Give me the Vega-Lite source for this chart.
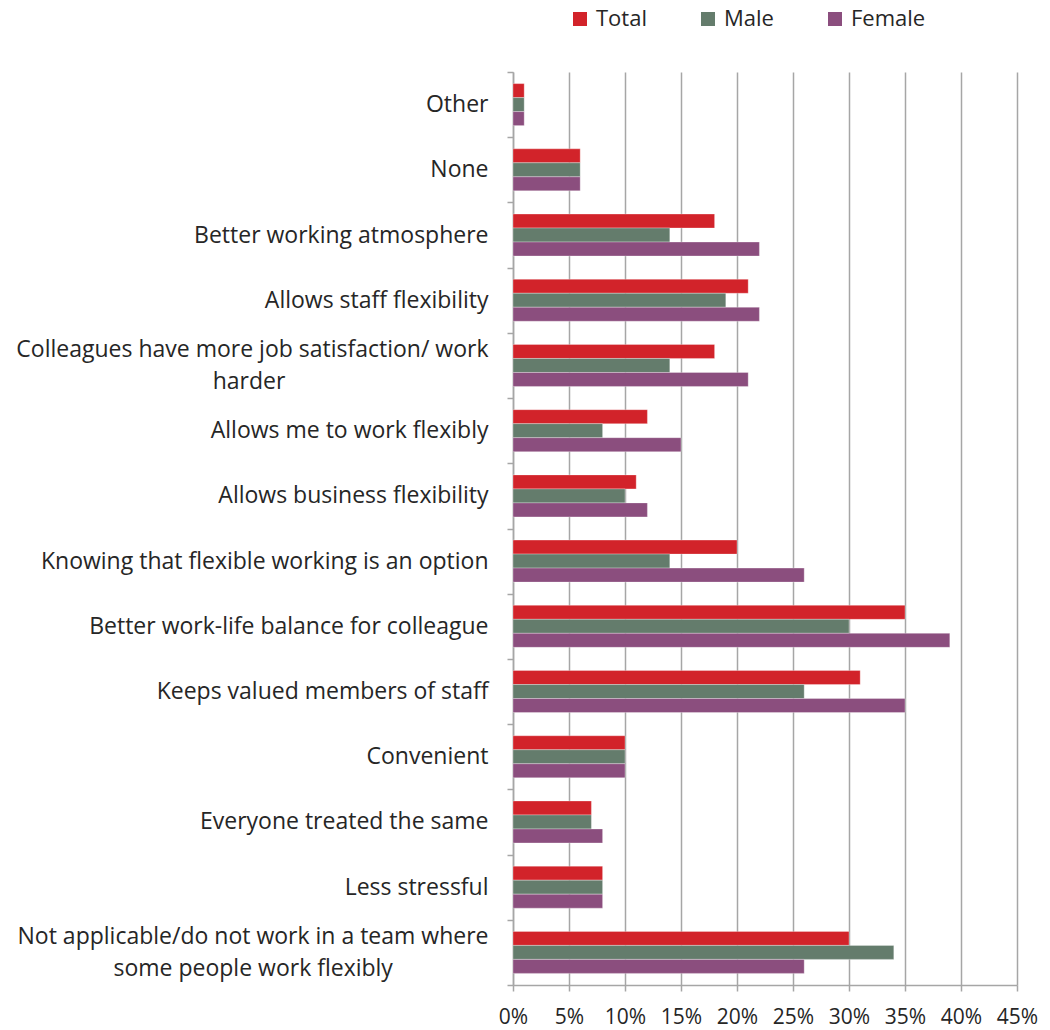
{
  "$schema": "https://vega.github.io/schema/vega-lite/v6.json",
  "width": 504,
  "height": 913,
  "autosize": {"type": "none"},
  "padding": {"left": 513, "top": 72, "right": 33, "bottom": 45},
  "background": "white",
  "config": {
    "view": {"stroke": null},
    "font": "Open Sans",
    "axis": {"labelColor": "#262626", "labelFont": "Open Sans"},
    "legend": {"labelFont": "Open Sans"}
  },
  "data": {
    "values": [
      {"cat": "Other", "g": "Total", "v": 1}, {"cat": "Other", "g": "Male", "v": 1}, {"cat": "Other", "g": "Female", "v": 1},
      {"cat": "None", "g": "Total", "v": 6}, {"cat": "None", "g": "Male", "v": 6}, {"cat": "None", "g": "Female", "v": 6},
      {"cat": "Better working atmosphere", "g": "Total", "v": 18}, {"cat": "Better working atmosphere", "g": "Male", "v": 14}, {"cat": "Better working atmosphere", "g": "Female", "v": 22},
      {"cat": "Allows staff flexibility", "g": "Total", "v": 21}, {"cat": "Allows staff flexibility", "g": "Male", "v": 19}, {"cat": "Allows staff flexibility", "g": "Female", "v": 22},
      {"cat": "Colleagues have more job satisfaction/ work harder", "g": "Total", "v": 18}, {"cat": "Colleagues have more job satisfaction/ work harder", "g": "Male", "v": 14}, {"cat": "Colleagues have more job satisfaction/ work harder", "g": "Female", "v": 21},
      {"cat": "Allows me to work flexibly", "g": "Total", "v": 12}, {"cat": "Allows me to work flexibly", "g": "Male", "v": 8}, {"cat": "Allows me to work flexibly", "g": "Female", "v": 15},
      {"cat": "Allows business flexibility", "g": "Total", "v": 11}, {"cat": "Allows business flexibility", "g": "Male", "v": 10}, {"cat": "Allows business flexibility", "g": "Female", "v": 12},
      {"cat": "Knowing that flexible working is an option", "g": "Total", "v": 20}, {"cat": "Knowing that flexible working is an option", "g": "Male", "v": 14}, {"cat": "Knowing that flexible working is an option", "g": "Female", "v": 26},
      {"cat": "Better work-life balance for colleague", "g": "Total", "v": 35}, {"cat": "Better work-life balance for colleague", "g": "Male", "v": 30}, {"cat": "Better work-life balance for colleague", "g": "Female", "v": 39},
      {"cat": "Keeps valued members of staff", "g": "Total", "v": 31}, {"cat": "Keeps valued members of staff", "g": "Male", "v": 26}, {"cat": "Keeps valued members of staff", "g": "Female", "v": 35},
      {"cat": "Convenient", "g": "Total", "v": 10}, {"cat": "Convenient", "g": "Male", "v": 10}, {"cat": "Convenient", "g": "Female", "v": 10},
      {"cat": "Everyone treated the same", "g": "Total", "v": 7}, {"cat": "Everyone treated the same", "g": "Male", "v": 7}, {"cat": "Everyone treated the same", "g": "Female", "v": 8},
      {"cat": "Less stressful", "g": "Total", "v": 8}, {"cat": "Less stressful", "g": "Male", "v": 8}, {"cat": "Less stressful", "g": "Female", "v": 8},
      {"cat": "Not applicable/do not work in a team where some people work flexibly", "g": "Total", "v": 30}, {"cat": "Not applicable/do not work in a team where some people work flexibly", "g": "Male", "v": 34}, {"cat": "Not applicable/do not work in a team where some people work flexibly", "g": "Female", "v": 26}
    ]
  },
  "mark": {"type": "bar", "stroke": "white", "strokeWidth": 0.5, "strokeOpacity": 0.6},
  "encoding": {
    "y": {
      "field": "cat", "type": "nominal", "sort": null,
      "scale": {"paddingInner": 0, "paddingOuter": 0},
      "axis": {
        "title": null, "grid": false, "tickBand": "extent",
        "domainColor": "#a6a6a6", "tickColor": "#a6a6a6", "tickSize": 6, "domainWidth": 1.5, "tickWidth": 1.5,
        "labelFontSize": 23, "labelPadding": 19, "labelLimit": 520,
        "labelExpr": "datum.value == 'Colleagues have more job satisfaction/ work harder' ? ['Colleagues have more job satisfaction/ work', 'harder\u00a0\u00a0\u00a0\u00a0\u00a0\u00a0\u00a0\u00a0\u00a0\u00a0\u00a0\u00a0\u00a0\u00a0\u00a0\u00a0\u00a0\u00a0\u00a0\u00a0\u00a0\u00a0\u00a0\u00a0\u00a0\u00a0\u00a0\u00a0\u00a0\u00a0\u00a0\u00a0\u00a0\u00a0\u200b'] : datum.value == 'Not applicable/do not work in a team where some people work flexibly' ? ['Not applicable/do not work in a team where', 'some people work flexibly\u00a0\u00a0\u00a0\u00a0\u00a0\u00a0\u00a0\u00a0\u00a0\u00a0\u00a0\u00a0\u00a0\u00a0\u00a0\u00a0\u200b'] : datum.value",
        "labelLineHeight": 32,
        "labelBaseline": {"condition": {"test": "isValid(datum) && isString(datum.value) && (indexof(datum.value, 'Colleagues') == 0 || indexof(datum.value, 'Not applicable') == 0)", "value": "line-bottom"}, "value": "middle"}
      }
    },
    "yOffset": {"field": "g", "type": "nominal", "sort": ["Total", "Male", "Female"], "scale": {"paddingInner": 0, "paddingOuter": 0.83}},
    "x": {
      "field": "v", "type": "quantitative",
      "scale": {"domain": [0, 45], "nice": false},
      "axis": {
        "title": null, "values": [0, 5, 10, 15, 20, 25, 30, 35, 40, 45],
        "labelExpr": "datum.value + '%'",
        "labelOverlap": false, "labelFlush": false,
        "grid": true, "gridColor": "#a6a6a6", "gridWidth": 1.5,
        "domainColor": "#a6a6a6", "tickColor": "#a6a6a6", "tickSize": 6, "domainWidth": 1.5, "tickWidth": 1.5,
        "labelFontSize": 21, "labelPadding": 15
      }
    },
    "color": {
      "field": "g", "type": "nominal",
      "scale": {"domain": ["Total", "Male", "Female"], "range": ["#d2232a", "#647c6c", "#8b4e7e"]},
      "legend": {
        "title": null, "orient": "none", "legendX": 56, "legendY": -64,
        "direction": "horizontal", "symbolType": "square", "symbolSize": 196,
        "symbolStrokeWidth": 0, "labelFontSize": 22, "labelColor": "#262626",
        "gridAlign": "none", "columnPadding": 50, "labelOffset": 5
      }
    }
  }
}
